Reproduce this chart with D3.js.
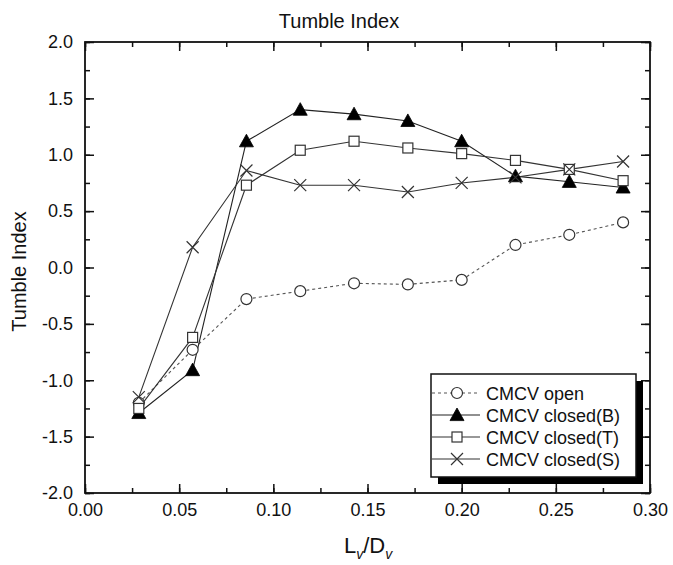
<!DOCTYPE html>
<html>
<head>
<meta charset="utf-8">
<script src="https://cdn.jsdelivr.net/npm/d3@7"></script>
<style>
  html, body { margin: 0; padding: 0; background: #fff; }
  svg { display: block; font-family: "Liberation Sans", Arial, Helvetica, sans-serif; }
</style>
</head>
<body>
<svg id="chart" width="673" height="565"></svg>
<script>
// ---- data ----
const xValues = [1/35, 2/35, 3/35, 4/35, 5/35, 6/35, 7/35, 8/35, 9/35, 10/35];
const openValues    = [-1.20, -0.73, -0.28, -0.21, -0.14, -0.15, -0.11, 0.20, 0.29, 0.40];
const closedBValues = [-1.29, -0.91, 1.12, 1.40, 1.36, 1.30, 1.12, 0.81, 0.76, 0.71];
const closedTValues = [-1.25, -0.62, 0.73, 1.04, 1.12, 1.06, 1.01, 0.95, 0.87, 0.77];
const closedSValues = [-1.15, 0.18, 0.86, 0.73, 0.73, 0.67, 0.75, 0.80, 0.87, 0.94];
const seriesNames = ["CMCV open", "CMCV closed(B)", "CMCV closed(T)", "CMCV closed(S)"];
const xTicks = [0, 0.05, 0.10, 0.15, 0.20, 0.25, 0.30];
const yTicks = [-2.0, -1.5, -1.0, -0.5, 0.0, 0.5, 1.0, 1.5, 2.0];
const chartTitle = "Tumble Index";
const yTitle = "Tumble Index";

(function () {
// ---- layout ----
const svg = d3.select("#chart");
const L = 85, R = 650, T = 42, B = 493;
const x = d3.scaleLinear().domain([0, 0.30]).range([L, R]);
const y = d3.scaleLinear().domain([-2, 2]).range([B, T]);

const series = [
  {name: seriesNames[0], values: openValues, marker: "circle", dash: "3,3", color: "#555"},
  {name: seriesNames[1], values: closedBValues, marker: "triangle", dash: null, color: "#222"},
  {name: seriesNames[2], values: closedTValues, marker: "square", dash: null, color: "#333"},
  {name: seriesNames[3], values: closedSValues, marker: "cross", dash: null, color: "#333"}
];

// ---- axes (ticks inward, all four sides) ----
const xMinor = d3.range(0, 0.3001, 0.025);
const yMinor = d3.range(-2, 2.001, 0.25);
const fmtX = d => d3.format(".2f")(d).replace("\u2212", "-");
const fmtY = d => d3.format(".1f")(d).replace("\u2212", "-");

svg.append("g").attr("transform", `translate(0,${B})`)
  .call(d3.axisBottom(x).tickValues(xMinor).tickSize(-5).tickFormat(""));
svg.append("g").attr("transform", `translate(0,${B})`)
  .call(d3.axisBottom(x).tickValues(xTicks).tickSize(-9).tickPadding(10).tickFormat(fmtX));
svg.append("g").attr("transform", `translate(0,${T})`)
  .call(d3.axisTop(x).tickValues(xMinor).tickSize(-5).tickFormat(""));
svg.append("g").attr("transform", `translate(0,${T})`)
  .call(d3.axisTop(x).tickValues(xTicks).tickSize(-9).tickFormat(""));
svg.append("g").attr("transform", `translate(${L},0)`)
  .call(d3.axisLeft(y).tickValues(yMinor).tickSize(-5).tickFormat(""));
svg.append("g").attr("transform", `translate(${L},0)`)
  .call(d3.axisLeft(y).tickValues(yTicks).tickSize(-9).tickPadding(12).tickFormat(fmtY));
svg.append("g").attr("transform", `translate(${R},0)`)
  .call(d3.axisRight(y).tickValues(yMinor).tickSize(-5).tickFormat(""));
svg.append("g").attr("transform", `translate(${R},0)`)
  .call(d3.axisRight(y).tickValues(yTicks).tickSize(-9).tickFormat(""));

svg.selectAll(".domain").remove();
svg.selectAll(".tick line").attr("stroke", "#111").attr("stroke-width", 1.5);
svg.selectAll(".tick text").attr("font-size", 18).attr("fill", "#111")
  .attr("font-family", "Liberation Sans, Arial, sans-serif");

svg.append("rect").attr("x", L).attr("y", T).attr("width", R - L).attr("height", B - T)
  .attr("fill", "none").attr("stroke", "#111").attr("stroke-width", 1.8);

// ---- titles ----
svg.append("text").attr("x", 339).attr("y", 28).attr("text-anchor", "middle")
  .attr("font-size", 20).attr("fill", "#111").text(chartTitle);
svg.append("text").attr("transform", `translate(26,${(T + B) / 2 + 4}) rotate(-90)`)
  .attr("text-anchor", "middle").attr("font-size", 20).attr("fill", "#111").text(yTitle);
const xt = svg.append("text").attr("x", 368).attr("y", 553).attr("text-anchor", "middle")
  .attr("font-size", 22).attr("fill", "#111");
xt.append("tspan").text("L");
xt.append("tspan").attr("font-size", 14).attr("font-style", "italic").attr("dy", 6).text("v");
xt.append("tspan").attr("dy", -6).text("/D");
xt.append("tspan").attr("font-size", 14).attr("font-style", "italic").attr("dy", 6).text("v");

// ---- markers ----
function drawMarker(g, type, cx, cy) {
  if (type === "circle") {
    g.append("circle").attr("cx", cx).attr("cy", cy).attr("r", 5.5)
      .attr("fill", "#fff").attr("stroke", "#333").attr("stroke-width", 1.2);
  } else if (type === "triangle") {
    const s = 7;
    g.append("path").attr("d", `M${cx},${cy - s}L${cx + s},${cy + s * 0.8}L${cx - s},${cy + s * 0.8}Z`)
      .attr("fill", "#000").attr("stroke", "#000").attr("stroke-width", 0.8);
  } else if (type === "square") {
    g.append("rect").attr("x", cx - 5).attr("y", cy - 5).attr("width", 10).attr("height", 10)
      .attr("fill", "#fff").attr("stroke", "#333").attr("stroke-width", 1.2);
  } else if (type === "cross") {
    const s = 6;
    g.append("path").attr("d", `M${cx - s},${cy - s}L${cx + s},${cy + s}M${cx - s},${cy + s}L${cx + s},${cy - s}`)
      .attr("fill", "none").attr("stroke", "#333").attr("stroke-width", 1.2);
  }
}

const line = d3.line().x(d => x(d[0])).y(d => y(d[1]));
const plot = svg.append("g");
series.forEach(s => {
  const pts = xValues.map((xv, i) => [xv, s.values[i]]);
  plot.append("path").attr("d", line(pts)).attr("fill", "none")
    .attr("stroke", s.color).attr("stroke-width", 1.1)
    .attr("stroke-dasharray", s.dash);
});
series.forEach(s => {
  const g = plot.append("g");
  xValues.forEach((xv, i) => drawMarker(g, s.marker, x(xv), y(s.values[i])));
});

// ---- legend ----
const lg = svg.append("g");
const lx = 431, ly = 374, lw = 205, lh = 103;
lg.append("rect").attr("x", lx + 7).attr("y", ly + 7).attr("width", lw).attr("height", lh).attr("fill", "#000");
lg.append("rect").attr("x", lx).attr("y", ly).attr("width", lw).attr("height", lh)
  .attr("fill", "#fff").attr("stroke", "#111").attr("stroke-width", 1.5);
series.forEach((s, i) => {
  const yy = ly + 19 + i * 22;
  lg.append("line").attr("x1", lx + 1).attr("x2", lx + 49).attr("y1", yy).attr("y2", yy)
    .attr("stroke", s.color).attr("stroke-width", 1.1).attr("stroke-dasharray", s.dash);
  drawMarker(lg, s.marker, lx + 26, yy);
  lg.append("text").attr("x", lx + 55).attr("y", yy + 6.5).attr("font-size", 18)
    .attr("fill", "#111").text(s.name);
});
})();
</script>
</body>
</html>
